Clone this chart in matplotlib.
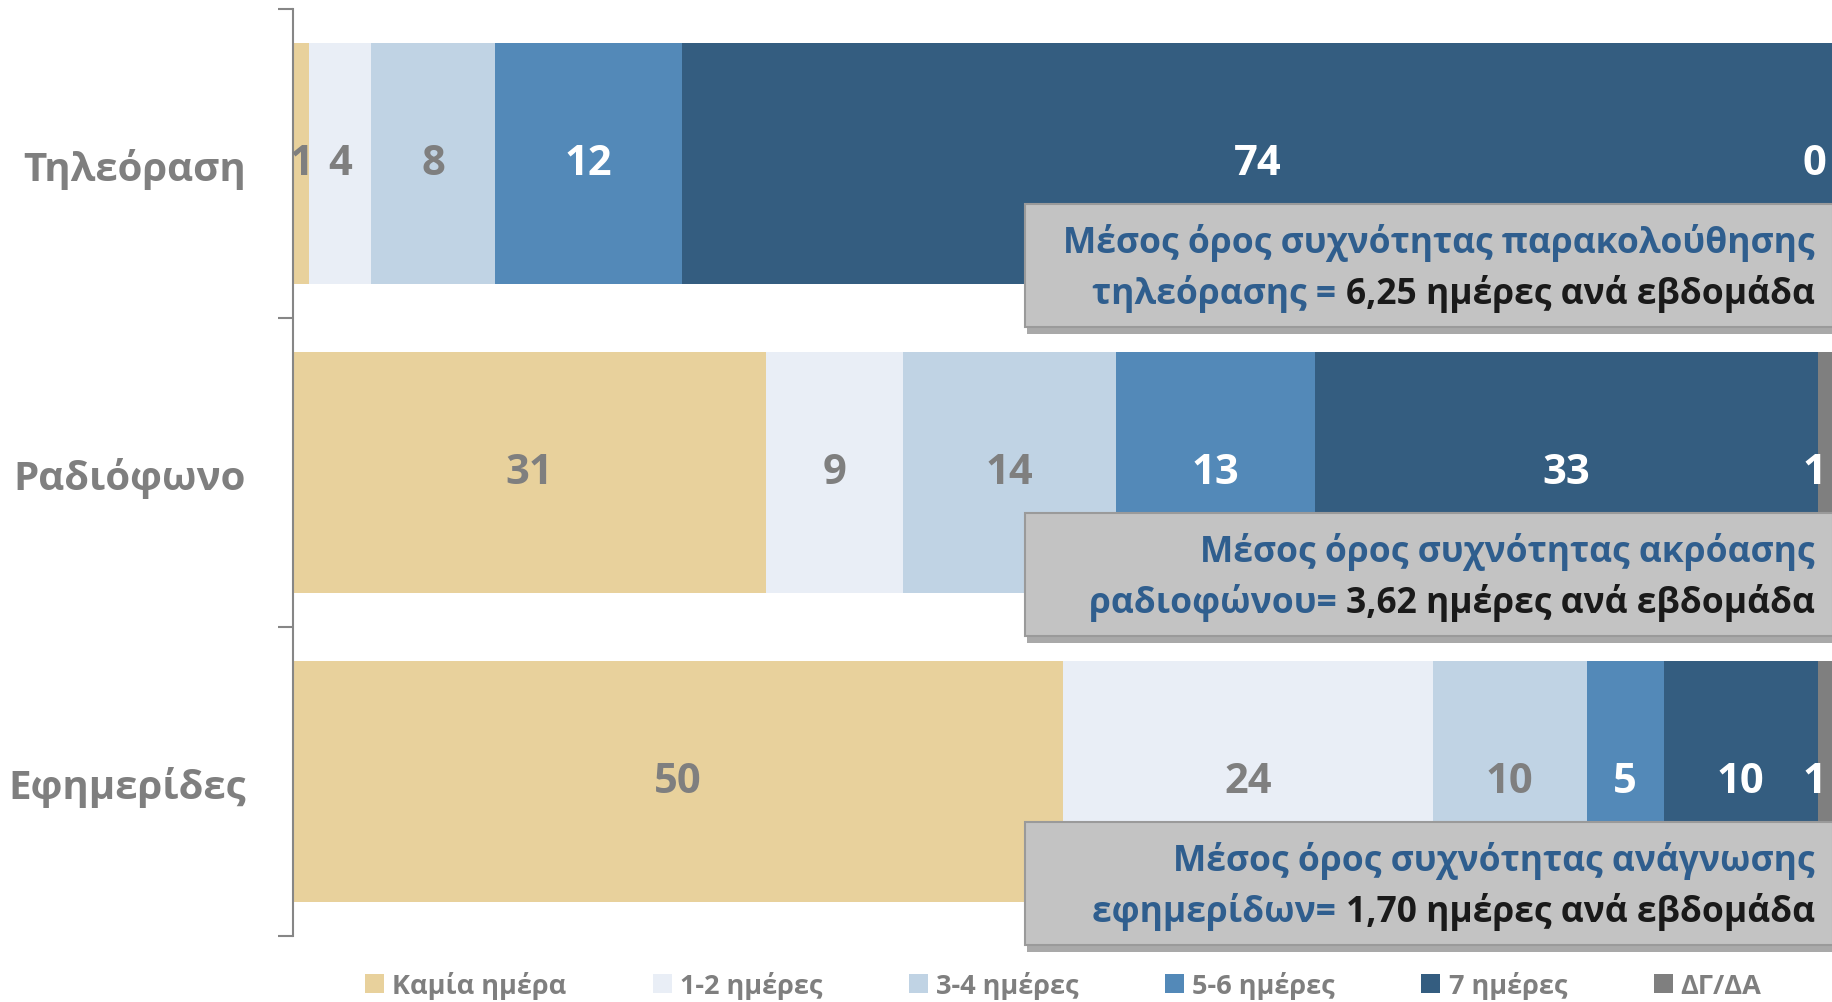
import numpy as np
import matplotlib
matplotlib.use('Agg')
import matplotlib.pyplot as plt
from matplotlib.patches import Rectangle
import matplotlib.patheffects as pe

plt.rcParams['font.family'] = ['Open Sans', 'DejaVu Sans']
plt.rcParams['font.weight'] = 'bold'

# data
categories = ['Τηλεόραση', 'Ραδιόφωνο', 'Εφημερίδες']
series_names = ['Καμία ημέρα', '1-2 ημέρες', '3-4 ημέρες', '5-6 ημέρες', '7 ημέρες', 'ΔΓ/ΔΑ']
values = np.array([
    [1, 4, 8, 12, 74, 0],
    [31, 9, 14, 13, 33, 1],
    [50, 24, 10, 5, 10, 1],
])
avg_first = ['Μέσος όρος συχνότητας παρακολούθησης',
             'Μέσος όρος συχνότητας ακρόασης',
             'Μέσος όρος συχνότητας ανάγνωσης']
avg_blue = ['τηλεόρασης = ', 'ραδιοφώνου= ', 'εφημερίδων= ']
avg_black = ['6,25 ημέρες ανά εβδομάδα', '3,62 ημέρες ανά εβδομάδα', '1,70 ημέρες ανά εβδομάδα']

colors = ['#E8D19C', '#E9EEF6', '#C0D3E4', '#5389B8', '#345D80', '#7F7F7F']
label_colors = ['#7F7F7F', '#7F7F7F', '#7F7F7F', 'white', 'white', 'white']
grey = '#7F7F7F'
blue_txt = '#2F5E8E'

shares = values / values.sum(axis=1, keepdims=True) * 100

fig = plt.figure(figsize=(18.33, 10.03), dpi=100)
ax = fig.add_axes([0.160, 0.0658, 0.840, 0.9242])

y = np.arange(len(categories))
left = np.zeros(len(categories))
for j, name in enumerate(series_names):
    ax.barh(y, shares[:, j], left=left, height=0.777, color=colors[j], label=name, zorder=2)
    for i in range(len(categories)):
        if j == len(series_names) - 1:
            ax.annotate(str(values[i, j]), xy=(100, y[i]), xytext=(-5, 0), textcoords='offset points',
                        ha='right', va='center', fontsize=30, fontweight='bold',
                        color=label_colors[j], zorder=5, annotation_clip=False)
        else:
            ax.text(left[i] + shares[i, j] / 2, y[i], str(values[i, j]), ha='center', va='center',
                    fontsize=30, fontweight='bold', color=label_colors[j], zorder=5)
    left += shares[:, j]

# average boxes
for i in range(len(categories)):
    top = y[i] + 0.13
    rect = Rectangle((47.5, top), 52.5, 0.4, facecolor='#C3C3C3', edgecolor='#9A9A9A', lw=1.5,
                     zorder=4, clip_on=False,
                     path_effects=[pe.SimplePatchShadow(offset=(2, -5), shadow_rgbFace='#555555', alpha=0.5),
                                   pe.Normal()])
    ax.add_patch(rect)
    ax.text(98.8, top + 0.125, avg_first[i], ha='right', va='center', fontsize=25.5,
            fontweight='bold', color=blue_txt, zorder=6)
    t_black = ax.text(98.8, top + 0.29, avg_black[i], ha='right', va='center', fontsize=25.5,
                      fontweight='bold', color='#1A1A1A', zorder=6)
    ax.annotate(avg_blue[i], xy=(0, 0), xycoords=t_black, ha='right', va='bottom',
                fontsize=25.5, fontweight='bold', color=blue_txt, zorder=6)

ax.set_xlim(0, 100)
ax.set_ylim(2.5, -0.5)
ax.set_xticks([])
for s in ['top', 'right', 'bottom']:
    ax.spines[s].set_visible(False)
ax.spines['left'].set_color('#868686')
ax.spines['left'].set_linewidth(1.5)
ax.set_yticks([-0.5, 0.5, 1.5, 2.5])
ax.set_yticklabels([])
ax.tick_params(axis='y', which='major', length=11, width=1.5, color='#868686', direction='out')
ax.set_yticks(y, minor=True)
ax.set_yticklabels(categories, minor=True)
ax.tick_params(axis='y', which='minor', length=0, pad=34, labelsize=29, labelcolor=grey)
for lab in ax.get_yticklabels(minor=True):
    lab.set_fontweight('bold')

leg = fig.legend(loc='center', bbox_to_anchor=(0.580, 0.017), ncol=6, frameon=False,
                 handlelength=0.7, handleheight=0.7, handletextpad=0.3, columnspacing=3.2,
                 prop={'size': 19.5, 'weight': 'bold'})
for t in leg.get_texts():
    t.set_color(grey)

fig.savefig('out.png', dpi=100)
